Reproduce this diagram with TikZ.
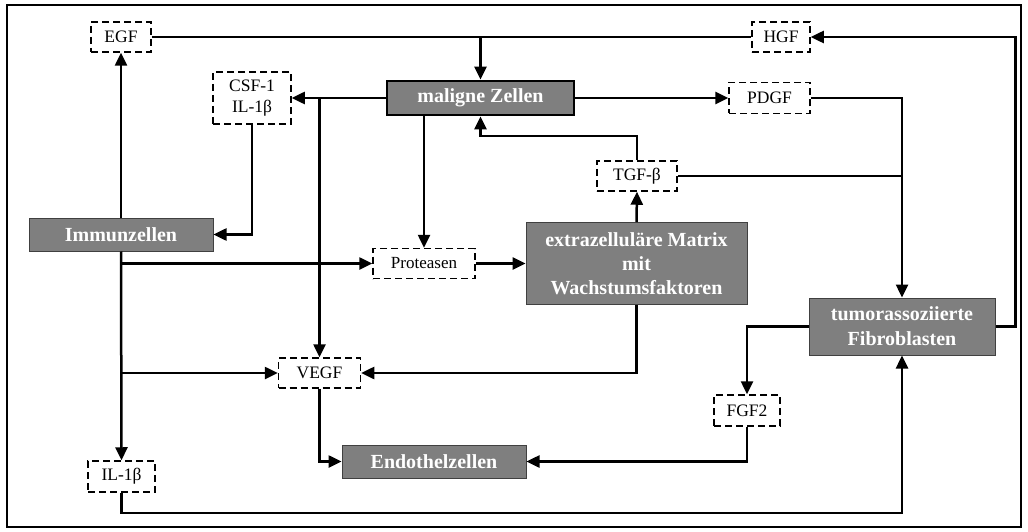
\documentclass[tikz,border=0pt]{standalone}
\usepackage{fontspec}
\setmainfont{Liberation Serif}
\usetikzlibrary{arrows.meta}
\definecolor{boxgray}{HTML}{7F7F7F}
\definecolor{boxedge}{HTML}{404040}
\begin{document}
\begin{tikzpicture}[x=1pt,y=-1pt,
  dbox/.style={draw, fill=white, line width=1.5pt, dash pattern=on 7pt off 4pt,
    inner sep=0pt, align=center, font=\fontsize{17.5}{21}\selectfont},
  gbox/.style={draw=boxedge, fill=boxgray, line width=1pt, text=white,
    inner sep=0pt, align=center, font=\fontsize{20}{24}\selectfont\bfseries},
  wire/.style={line width=2.5pt},
  conn/.style={line width=2.5pt, -{Triangle[length=13pt,width=12pt]}}]
\useasboundingbox (0,0) rectangle (1028,532);
\draw[line width=1.8pt] (7,5) rectangle (1021,527);

\node[dbox, minimum width=60, minimum height=30] (egf) at (121,37) {EGF};
\node[dbox, minimum width=58, minimum height=30] (hgf) at (781,37) {HGF};
\node[dbox, minimum width=78, minimum height=52] (csf) at (252,98) {CSF-1\\IL-1β};
\node[gbox, draw=black, line width=2.8pt, minimum width=187, minimum height=34] (mz) at (480.5,98) {maligne Zellen};
\node[dbox, minimum width=81, minimum height=31] (pdgf) at (769.5,98) {PDGF};
\node[dbox, minimum width=80, minimum height=30] (tgf) at (637,176) {TGF-β};
\node[gbox, minimum width=184, minimum height=33] (imm) at (121,234.5) {Immunzellen};
\node[dbox, minimum width=102, minimum height=30, font=\fontsize{17}{20}\selectfont] (prot) at (424,263.5) {Proteasen};
\node[gbox, minimum width=221, minimum height=82] (ecm) at (636.5,263.5) {extrazelluläre Matrix\\mit\\Wachstumsfaktoren};
\node[gbox, minimum width=186, minimum height=57, font=\fontsize{20}{25}\selectfont\bfseries] (fib) at (902,326.5) {tumorassoziierte\\Fibroblasten};
\node[dbox, minimum width=82, minimum height=30] (vegf) at (319.5,373) {VEGF};
\node[dbox, minimum width=66, minimum height=31] (fgf) at (747,410.5) {FGF2};
\node[gbox, minimum width=184, minimum height=33] (endo) at (434,461.5) {Endothelzellen};
\node[dbox, minimum width=67, minimum height=31] (il) at (121.5,476.5) {IL-1β};

% EGF -- HGF line with arrow into maligne Zellen
\draw[wire] (egf.east) -- (hgf.west);
\draw[conn] (mz.north |- egf.east) -- (mz.north);
% Fibroblasten -> HGF
\draw[conn] (fib.east) -- ++(20,0) |- (hgf.east);
% Immunzellen -> EGF
\draw[conn] (imm.north) -- (egf.south);
% maligne Zellen -> CSF-1 and branch to VEGF
\draw[conn] (mz.west) -- (csf.east);
\draw[conn] (vegf.north |- mz.west) -- (vegf.north);
% CSF-1 -> Immunzellen
\draw[conn] (csf.south) |- (imm.east);
% maligne Zellen -> Proteasen
\draw[conn] (prot.north |- mz.south) -- (prot.north);
% Immunzellen -> IL-1b, Proteasen, VEGF
\draw[conn] (imm.south) -- (il.north);
\draw[conn] (imm.south |- prot.west) -- (prot.west);
\draw[conn] (imm.south |- vegf.west) -- (vegf.west);
% Proteasen -> Matrix
\draw[conn] (prot.east) -- (ecm.west);
% Matrix -> TGF-b
\draw[conn] (ecm.north) -- (tgf.south);
% TGF-b -> maligne Zellen
\draw[conn] (tgf.north) -- ++(0,-24) -| (mz.south);
% TGF-b -> Fibroblasten line
\draw[wire] (tgf.east) -- (fib.north |- tgf.east);
% maligne Zellen -> PDGF
\draw[conn] (mz.east) -- (pdgf.west);
% PDGF -> Fibroblasten
\draw[conn] (pdgf.east) -| (fib.north);
% Matrix -> VEGF
\draw[conn] (ecm.south) |- (vegf.east);
% VEGF -> Endothelzellen
\draw[conn] (vegf.south) |- (endo.west);
% Fibroblasten -> FGF2
\draw[conn] (fib.west) -| (fgf.north);
% FGF2 -> Endothelzellen
\draw[conn] (fgf.south) |- (endo.east);
% IL-1b -> Fibroblasten
\draw[conn] (il.south) -- ++(0,20) -| (fib.south);
\end{tikzpicture}
\end{document}
